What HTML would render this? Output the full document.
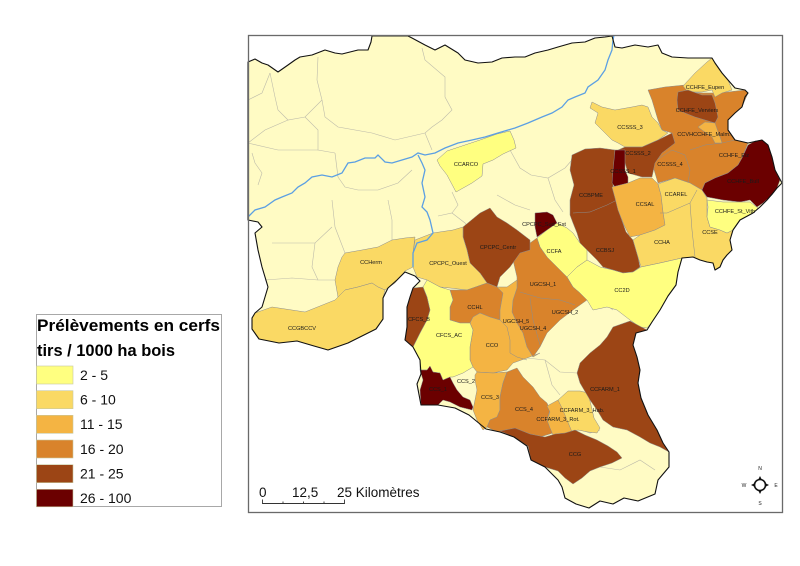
<!DOCTYPE html>
<html><head><meta charset="utf-8"><style>
html,body{margin:0;padding:0;background:#fff;}
svg{display:block;}
.l{font-family:"Liberation Sans",Arial,sans-serif;font-size:5.6px;fill:#1a1a1a;text-anchor:middle;}
.g{fill:none;stroke:#bdbbaa;stroke-width:0.6;}
.p{stroke:#8d8d8d;stroke-width:0.5;}
</style></head><body>
<svg width="800" height="566" viewBox="0 0 800 566" xmlns="http://www.w3.org/2000/svg">
<rect width="800" height="566" fill="#fff"/>
<!-- base region -->
<polygon fill="#fffbc4" stroke="none" points="248,62 255,59 262,63 268,65 278,72 288,65 295,60 300,57 312,55 325,50 335,53 342,54 358,50 368,50 371,42 372,36 408,36 412,38 425,45 435,50 445,45 458,53 465,60 478,63 492,62 502,58 515,57 525,57 535,53 548,50 558,47 572,43 585,42 595,38 605,37 612,36 615,47 622,48 635,45 648,47 658,45 662,53 672,57 688,58 702,58 712,58 715,63 722,73 728,80 735,88 745,90 748,93 745,97 742,107 735,113 728,120 728,130 735,140 748,143 762,140 768,145 772,157 775,170 782,183 777,188 773,193 767,200 760,207 753,213 740,220 733,230 730,240 732,250 727,255 723,260 720,267 715,270 713,263 707,262 700,260 693,257 682,258 678,272 676,285 668,296 660,310 652,322 647,330 636,333 633,345 637,357 640,370 638,383 641,398 648,415 657,430 663,443 669,452 669,467 658,480 655,494 638,501 624,498 613,504 600,501 589,508 576,504 565,498 562,487 558,480 545,467 531,460 527,446 514,437 500,432 486,429 469,415 455,408 438,405 421,405 417,384 421,374 420,360 413,347 405,340 407,327 407,307 410,297 413,288 420,281 415,276 405,272 397,280 388,288 383,298 383,319 376,329 362,336 348,343 328,350 314,346 297,341 279,343 259,339 252,329 252,318 255,313 262,307 265,297 268,287 262,267 258,250 255,233 262,227 258,222 248,220"/>

<!-- gray interior lines (pale areas) -->
<polyline class="g" points="248,100 262,93 270,73"/>
<polyline class="g" points="270,73 275,97 278,110 288,120 305,117 322,100 317,80 318,57"/>
<polyline class="g" points="288,120 265,130 248,143"/>
<polyline class="g" points="305,117 318,130 318,150 335,153"/>
<polyline class="g" points="322,100 325,117 338,127 372,133 395,140 425,133 432,127 442,120 452,110 445,97 445,77 425,60 422,48"/>
<polyline class="g" points="425,133 432,150"/>
<polyline class="g" points="248,143 278,150 318,150"/>
<polyline class="g" points="252,153 255,163 262,173 258,185"/>
<polyline class="g" points="335,153 338,177"/>
<polyline class="g" points="338,177 345,187 358,190 378,190 398,183 412,170"/>
<polyline class="g" points="332,200 335,227 345,253"/>
<polyline class="g" points="388,200 392,220 392,240"/>
<polyline class="g" points="272,243 315,243 332,227"/>
<polyline class="g" points="265,280 292,278 318,280 335,280"/>
<polyline class="g" points="315,243 312,267 318,280"/>
<polyline class="g" points="438,216 452,213 465,223 470,232"/>
<polyline class="g" points="452,192 458,205 452,213"/>
<polyline class="g" points="510,150 520,168 531,175 548,178 565,168 572,160"/>
<polyline class="g" points="548,178 555,200 563,212"/>
<polyline class="g" points="497,195 515,205 530,210"/>
<polyline class="g" points="527,358 545,360 560,372 577,373"/>
<polyline class="g" points="545,360 552,385 560,395"/>
<polyline class="g" points="580,293 600,300 613,310"/>
<polyline class="g" points="563,433 575,428 590,433 600,430"/>
<polyline class="g" points="600,467 620,470 640,460 655,470"/>

<!-- east group -->
<polygon class="p" fill="#d9832b" points="648,90 665,87 685,85 688,92 702,93 715,93 728,92 745,90 748,93 742,107 735,113 728,120 728,130 735,140 748,143 742,158 738,165 728,173 715,178 705,183 702,190 690,183 675,178 658,183 655,173 652,163 658,153 672,143 672,133 662,130 658,120 655,110 652,100"/>
<polyline class="p" fill="none" points="652,163 672,150 685,155 690,170 688,183"/>
<polyline class="p" fill="none" points="690,150 705,145 722,143 735,140"/>
<polygon class="p" fill="#fad964" points="683,86 695,73 707,62 712,58 715,63 722,73 728,80 732,90 722,93 715,97 712,90 702,92 688,92"/>
<polygon class="p" fill="#9c4515" points="678,92 688,90 702,95 712,95 715,103 718,117 715,123 705,120 695,117 685,113 678,110 677,100"/>
<polygon class="p" fill="#f4b443" points="705,122 715,123 720,137 722,143 715,143 712,137 702,130 698,127"/>
<polygon class="p" fill="#fad964" points="592,102 602,107 615,110 632,107 642,105 648,107 652,117 658,123 662,130 668,133 658,140 642,147 625,147 618,143 612,140 602,130 595,123 598,113 590,108"/>
<polygon class="p" fill="#9c4515" points="618,150 625,147 642,147 658,140 672,133 675,143 662,153 655,163 652,177 642,177 628,173 625,163"/>
<polygon class="p" fill="#9c4515" points="572,155 585,149 600,148 615,150 613,185 616,200 620,215 626,232 633,240 638,257 640,267 633,272 623,273 613,270 603,267 597,260 587,250 580,243 577,233 573,223 570,215 570,200 574,185 570,170"/>
<polyline class="p" fill="none" points="573,213 590,212 607,205 617,200"/>
<polygon class="p" fill="#6b0000" points="615,150 625,150 625,170 628,177 628,183 615,187 612,183 613,170"/>
<polygon class="p" fill="#f4b443" points="612,187 628,183 640,178 652,178 658,184 661,195 663,212 665,225 655,230 640,235 630,237 624,225 618,210 615,198"/>
<polygon class="p" fill="#fad964" points="658,184 675,178 690,183 702,190 707,198 707,217 710,227 720,230 727,233 733,230 730,240 732,250 727,255 723,260 720,267 715,270 713,263 707,262 700,260 693,257 682,258 660,263 641,267 638,257 633,240 640,235 655,230 665,225 663,212 661,195"/>
<polyline class="p" fill="none" points="660,213 667,213 690,203 697,190"/>
<polyline class="p" fill="none" points="690,203 692,230 695,257"/>
<polygon class="p" fill="#6b0000" points="705,183 715,178 728,173 738,165 742,158 748,145 755,141 762,140 768,145 772,157 775,170 780,180 777,188 772,195 763,203 757,207 750,200 740,202 723,200 707,197 702,190"/>
<polygon class="p" fill="#ffff80" points="707,200 723,202 750,202 758,208 753,213 740,220 733,230 727,233 720,230 710,227 707,217 708,207"/>

<!-- CCARCO -->
<polygon class="p" fill="#ffff80" points="437,160 447,151 462,146 480,140 497,134 510,131 514,140 516,148 503,154 493,160 483,164 482,176 472,183 456,192 447,175 440,166"/>

<!-- center -->
<polygon class="p" fill="#ffff80" points="567,277 577,267 587,260 600,267 613,270 623,273 633,272 641,267 660,263 682,258 678,272 676,285 668,296 660,310 652,322 647,328 640,327 630,320 617,310 607,307 593,310 587,300 580,293 573,287"/>
<polygon class="p" fill="#ffff80" points="537,238 547,230 557,223 567,228 573,233 580,243 587,250 587,260 577,267 567,277 557,267 547,257 540,247"/>
<polygon class="p" fill="#6b0000" points="535,213 547,212 553,215 557,223 547,230 537,237 535,227"/>
<polygon class="p" fill="#d9832b" points="513,260 520,250 530,243 537,238 540,247 547,257 557,267 567,277 573,287 580,293 587,300 573,310 560,320 547,333 540,347 533,357 527,347 523,333 517,323 512,312 513,300 517,288 517,277"/>
<polyline class="p" fill="none" points="520,292 540,298 560,300 575,305"/>
<polyline class="p" fill="none" points="530,298 533,320 540,345"/>
<polygon class="p" fill="#9c4515" points="463,227 480,213 490,208 497,217 507,223 517,230 530,240 530,250 520,253 510,267 500,277 497,287 487,283 480,273 470,263 467,250 463,237"/>
<polygon class="p" fill="#fad964" points="415,240 433,233 453,230 463,227 463,237 467,250 470,263 480,273 487,283 467,290 450,288 440,287 427,280 417,277 413,267 413,253"/>
<polygon class="p" fill="#fad964" points="342,257 345,253 362,250 378,247 392,240 405,238 415,237 413,253 413,267 405,271 395,283 385,290 378,287 372,283 358,287 345,290 338,297 335,280 338,267"/>
<polygon class="p" fill="#fad964" points="255,313 272,307 305,312 335,300 338,297 345,290 358,287 372,283 378,287 385,290 383,298 383,319 376,329 362,336 348,343 328,350 314,346 297,341 279,343 259,339 252,329 252,318"/>
<polygon class="p" fill="#d9832b" points="450,290 467,290 487,283 497,287 503,293 500,310 500,320 490,317 480,313 473,317 470,323 460,323 450,320 450,307 453,300"/>
<polygon class="p" fill="#f4b443" points="497,287 507,287 517,280 517,288 513,300 512,312 517,323 523,333 527,347 533,357 540,353 527,358 513,363 507,370 493,373 477,372 473,367 470,360 470,347 473,330 470,323 473,317 480,313 490,317 500,320 500,310 503,293"/>
<polyline class="p" fill="none" points="500,320 507,327 510,340 510,353 517,357 527,360"/>
<polygon class="p" fill="#ffff80" points="423,287 427,280 440,287 450,290 453,300 450,307 450,320 460,323 470,323 473,330 470,347 470,360 473,367 463,373 453,377 450,377 443,380 440,373 433,372 427,370 420,370 420,360 413,347 420,333 427,320 430,310 427,297"/>
<polygon class="p" fill="#9c4515" points="413,288 423,287 427,297 430,310 427,320 420,333 413,347 405,340 407,327 407,307 410,297"/>
<polygon class="p" fill="#6b0000" points="420,370 427,370 430,366 433,372 440,373 443,380 450,377 453,383 457,390 463,397 470,400 473,407 472,410 460,407 450,402 443,400 438,405 421,405 420,390 423,380"/>
<polygon class="p" fill="#f4b443" points="475,375 477,372 493,373 507,372 503,383 500,397 500,410 497,417 490,420 487,427 483,430 477,420 473,410 477,390 475,380"/>
<polygon class="p" fill="#d9832b" points="507,372 517,368 523,377 533,387 540,397 547,403 550,410 547,420 550,427 553,433 540,437 527,433 513,430 503,433 493,430 487,427 490,420 497,417 500,410 500,397 503,383"/>
<polygon class="p" fill="#fad964" points="558,400 568,391 580,391 588,393 591,405 594,418 600,428 597,433 588,432 578,430 570,432 565,420 560,410"/>
<polygon class="p" fill="#f4b443" points="547,406 558,400 562,408 567,420 572,432 563,436 553,435 550,428 547,420 550,412"/>
<polygon class="p" fill="#9c4515" points="500,431 515,428 530,434 545,437 555,434 565,433 575,430 585,435 597,440 608,446 617,452 622,458 612,463 600,467 590,471 582,478 573,484 565,478 558,471 545,467 531,460 528,446 514,437"/>
<polygon class="p" fill="#9c4515" points="613,327 630,321 647,330 636,333 633,345 637,357 640,370 638,383 641,398 648,415 657,430 663,443 669,452 660,447 650,443 640,437 627,430 613,427 603,420 597,410 590,400 580,383 577,373 580,363 590,353 600,345 607,337"/>

<!-- rivers -->
<polyline fill="none" stroke="#5b9fe3" stroke-width="1.3" points="248,217 255,210 265,207 275,200 282,197 292,193 298,187 305,183 312,177 322,175 332,177 342,173 348,163 355,162 365,158 375,158 378,155 385,162 392,163 402,160 412,157 418,153 425,155 435,153 445,148 458,143 472,140 485,137 498,133 508,130 515,128 528,123 542,117 552,113 562,107 568,100 575,97 585,93 588,87 598,80 605,70 608,60 612,50 613,40 614,35"/>
<polyline fill="none" stroke="#5b9fe3" stroke-width="1.3" points="418,155 422,163 425,170 422,183 425,197 422,207 427,212 430,220 433,233 427,240 417,243 413,253 413,267"/>

<!-- outer border -->
<polygon fill="none" stroke="#111" stroke-width="1.1" stroke-linejoin="round" points="248,62 255,59 262,63 268,65 278,72 288,65 295,60 300,57 312,55 325,50 335,53 342,54 358,50 368,50 371,42 372,36 408,36 412,38 425,45 435,50 445,45 458,53 465,60 478,63 492,62 502,58 515,57 525,57 535,53 548,50 558,47 572,43 585,42 595,38 605,37 612,36 615,47 622,48 635,45 648,47 658,45 662,53 672,57 688,58 702,58 712,58 715,63 722,73 728,80 735,88 745,90 748,93 745,97 742,107 735,113 728,120 728,130 735,140 748,143 762,140 768,145 772,157 775,170 782,183 777,188 773,193 767,200 760,207 753,213 740,220 733,230 730,240 732,250 727,255 723,260 720,267 715,270 713,263 707,262 700,260 693,257 682,258 678,272 676,285 668,296 660,310 652,322 647,330 636,333 633,345 637,357 640,370 638,383 641,398 648,415 657,430 663,443 669,452 669,467 658,480 655,494 638,501 624,498 613,504 600,501 589,508 576,504 565,498 562,487 558,480 545,467 531,460 527,446 514,437 500,432 486,429 469,415 455,408 438,405 421,405 417,384 421,374 420,360 413,347 405,340 407,327 407,307 410,297 413,288 420,281 415,276 405,272 397,280 388,288 383,298 383,319 376,329 362,336 348,343 328,350 314,346 297,341 279,343 259,339 252,329 252,318 255,313 262,307 265,297 268,287 262,267 258,250 255,233 262,227 258,222 248,220"/>

<!-- labels -->
<text class="l" x="466" y="166">CCARCO</text>
<text class="l" x="705" y="89">CCHFE_Eupen</text>
<text class="l" x="697" y="112">CCHFE_Verviers</text>
<text class="l" x="630" y="129">CCSSS_3</text>
<text class="l" x="704" y="136">CCVHCCHFE_Malm.</text>
<text class="l" x="638" y="155">CCSSS_2</text>
<text class="l" x="670" y="166">CCSSS_4</text>
<text class="l" x="734" y="157">CCHFE_Elz</text>
<text class="l" x="623" y="173">CCSSS_1</text>
<text class="l" x="743" y="183">CCHFE_Bull</text>
<text class="l" x="591" y="197">CCBPME</text>
<text class="l" x="645" y="206">CCSAL</text>
<text class="l" x="676" y="196">CCAREL</text>
<text class="l" x="735" y="213">CCHFE_St_Vith</text>
<text class="l" x="544" y="226">CPCPC_Sud_Est</text>
<text class="l" x="710" y="234">CCSE</text>
<text class="l" x="662" y="244">CCHA</text>
<text class="l" x="498" y="249">CPCPC_Centr</text>
<text class="l" x="554" y="253">CCFA</text>
<text class="l" x="605" y="252">CCBSJ</text>
<text class="l" x="371" y="264">CCHerm</text>
<text class="l" x="448" y="265">CPCPC_Ouest</text>
<text class="l" x="622" y="292">CC2D</text>
<text class="l" x="543" y="286">UGCSH_1</text>
<text class="l" x="565" y="314">UGCSH_2</text>
<text class="l" x="475" y="309">CCHL</text>
<text class="l" x="419" y="321">CFCS_B</text>
<text class="l" x="516" y="323">UGCSH_5</text>
<text class="l" x="533" y="330">UGCSH_4</text>
<text class="l" x="302" y="330">CCGBCCV</text>
<text class="l" x="449" y="337">CFCS_AC</text>
<text class="l" x="492" y="347">CCO</text>
<text class="l" x="466" y="383">CCS_2</text>
<text class="l" x="605" y="391">CCFARM_1</text>
<text class="l" x="438" y="391">CCS_1</text>
<text class="l" x="490" y="399">CCS_3</text>
<text class="l" x="524" y="411">CCS_4</text>
<text class="l" x="582" y="412">CCFARM_3_Hab.</text>
<text class="l" x="558" y="421">CCFARM_3_Rot.</text>
<text class="l" x="575" y="456">CCG</text>

<!-- scale bar -->
<g font-family="Liberation Sans, Arial, sans-serif" font-size="13.5" fill="#111">
<text x="259" y="497">0</text>
<text x="292" y="497">12,5</text>
<text x="337" y="497">25 Kilomètres</text>
</g>
<g stroke="#333" stroke-width="0.9" fill="none">
<line x1="262.5" y1="503.5" x2="344.5" y2="503.5"/>
<line x1="262.5" y1="499.5" x2="262.5" y2="504"/>
<line x1="283" y1="501.5" x2="283" y2="504"/>
<line x1="303.5" y1="501.5" x2="303.5" y2="504"/>
<line x1="324" y1="501.5" x2="324" y2="504"/>
<line x1="344.5" y1="499.5" x2="344.5" y2="504"/>
</g>

<!-- compass -->
<g>
<circle cx="760" cy="485" r="5.5" fill="#fff" stroke="#111" stroke-width="1.6"/>
<polygon points="760,476 758,480 762,480" fill="#111"/>
<polygon points="760,494 758,490 762,490" fill="#111"/>
<polygon points="751,485 755,483 755,487" fill="#111"/>
<polygon points="769,485 765,483 765,487" fill="#111"/>
<g font-family="Liberation Sans, Arial, sans-serif" font-size="5" fill="#222" text-anchor="middle">
<text x="760" y="470">N</text>
<text x="760" y="505">S</text>
<text x="744" y="487">W</text>
<text x="776" y="487">E</text>
</g>
</g>

<!-- map frame -->
<rect x="248.5" y="35.5" width="534" height="477" fill="none" stroke="#6a6a6a" stroke-width="1.3"/>

<!-- legend -->
<rect x="36.5" y="314.5" width="185" height="192" fill="#fff" stroke="#a8a8a8" stroke-width="1"/>
<g font-family="Liberation Sans, Arial, sans-serif" fill="#000">
<text x="37" y="331" font-size="17" font-weight="bold" textLength="183" lengthAdjust="spacingAndGlyphs">Prélèvements en cerfs</text>
<text x="37" y="356" font-size="17" font-weight="bold" textLength="138" lengthAdjust="spacingAndGlyphs">tirs / 1000 ha bois</text>
</g>
<g stroke="#c9c9a0" stroke-width="0.6">
<rect x="36.5" y="366" width="36.5" height="18" fill="#ffff80"/>
<rect x="36.5" y="390.7" width="36.5" height="18" fill="#fad964"/>
<rect x="36.5" y="415.3" width="36.5" height="18" fill="#f4b443"/>
<rect x="36.5" y="440" width="36.5" height="18" fill="#d9832b"/>
<rect x="36.5" y="464.7" width="36.5" height="18" fill="#9c4515"/>
<rect x="36.5" y="489.3" width="36.5" height="17.5" fill="#6b0000"/>
</g>
<g font-family="Liberation Sans, Arial, sans-serif" font-size="14" fill="#111">
<text x="80" y="380">2 - 5</text>
<text x="80" y="404.5">6 - 10</text>
<text x="80" y="429">11 - 15</text>
<text x="80" y="454">16 - 20</text>
<text x="80" y="478.5">21 - 25</text>
<text x="80" y="503">26 - 100</text>
</g>
</svg>
</body></html>
